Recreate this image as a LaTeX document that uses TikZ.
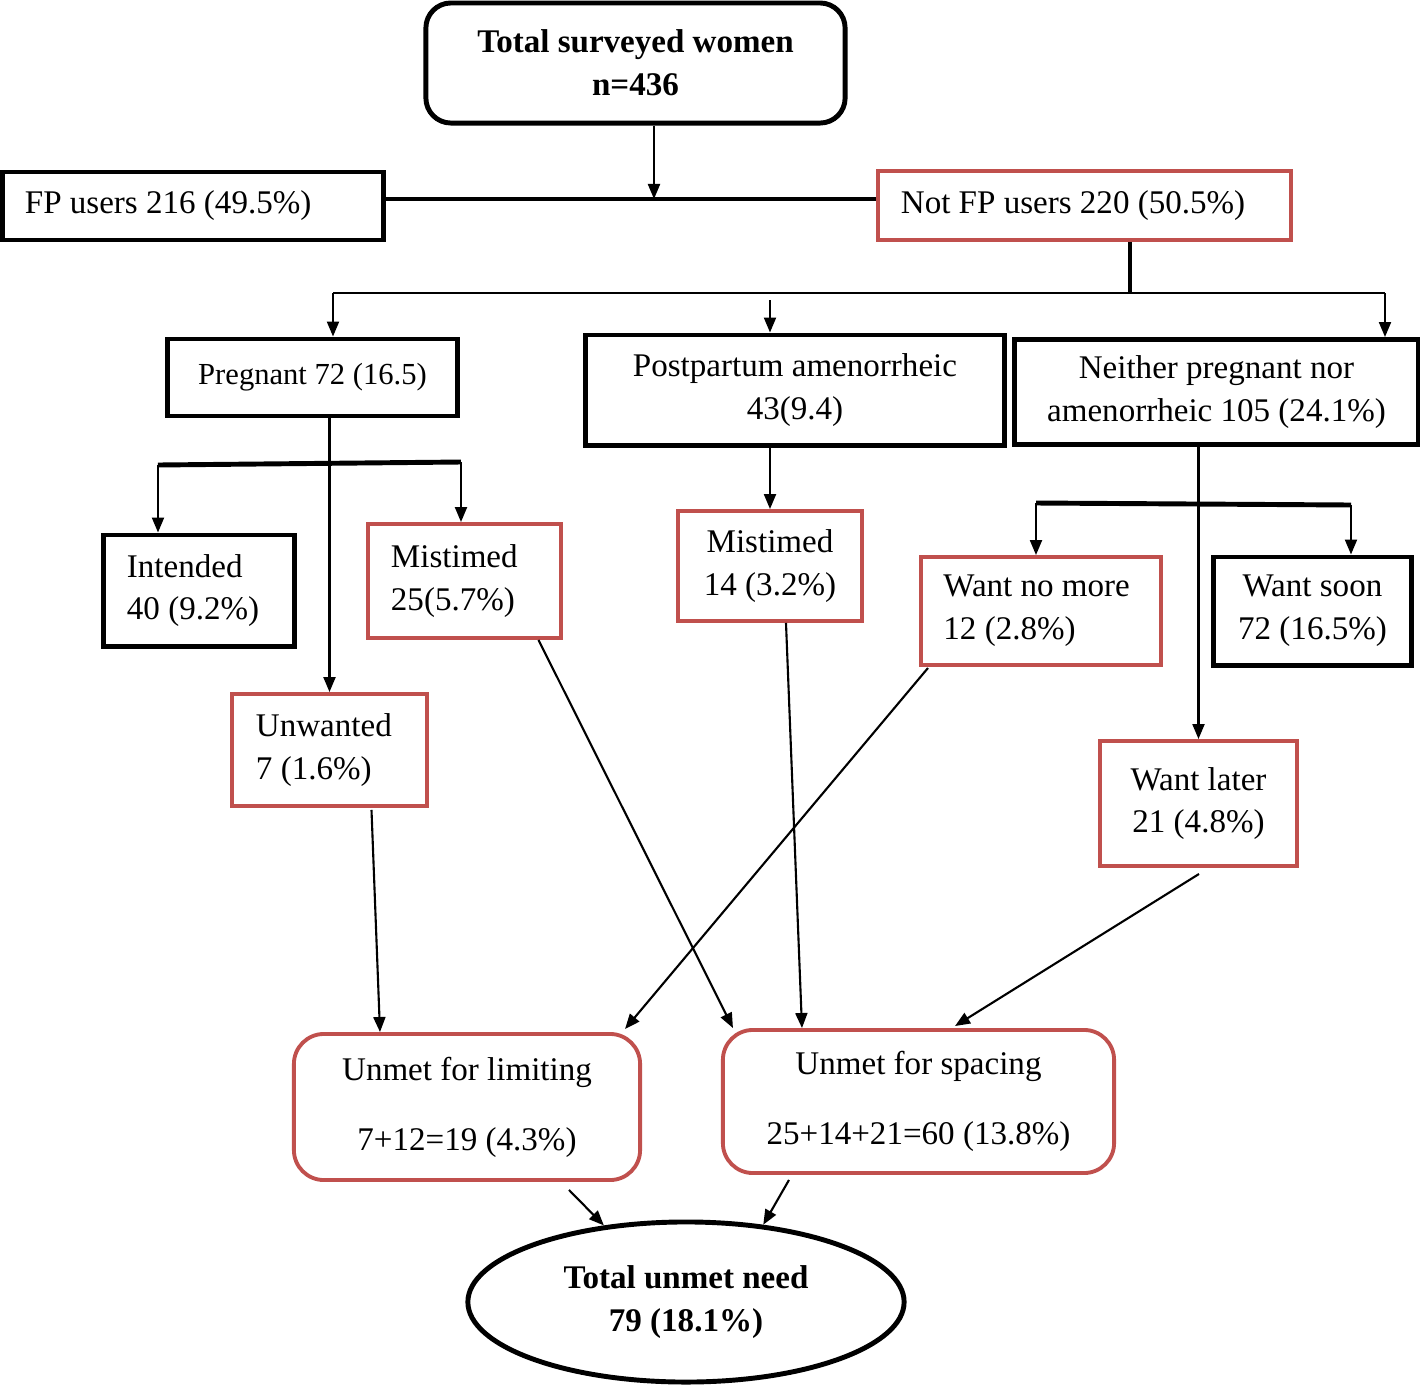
\documentclass[tikz,border=0pt]{standalone}
\usepackage{fontspec}
\setmainfont{Liberation Serif}
\usetikzlibrary{arrows.meta, calc, positioning, shapes.geometric}
\definecolor{unmetred}{HTML}{C0504D}

\tikzset{
  blackbox/.style={draw, line width=1.4pt, inner ysep=0pt},
  redbox/.style={draw=unmetred, line width=1.1pt, inner ysep=0pt},
  leftbox/.style={align=flush left, inner xsep=#1},
  link/.style={line width=0.6pt, -{Triangle[length=1.5mm,width=1.2mm]}},
  bar/.style={line width=1.4pt}
}

\begin{document}
\begin{tikzpicture}[x=0.01cm,y=-0.01cm,font=\fontsize{9.4pt}{12.2pt}\selectfont]
  \useasboundingbox (0,0) rectangle (1420,1387);

  % top of the tree
  \node[blackbox, rounded corners=0.25cm, minimum width=4.19cm, minimum height=1.20cm, align=center, font=\fontsize{9.4pt}{12.2pt}\selectfont\bfseries] (total) at (635.5,63) {Total surveyed women\\n=436};
  \node[blackbox, leftbox=0.22cm, text width=3.36cm, minimum height=0.68cm] (fpuse) at (193,206) {FP users 216 (49.5\%)};
  \node[redbox, leftbox=0.23cm, text width=3.67cm, minimum height=0.69cm] (notfp) at (1084.5,205.5) {Not FP users 220 (50.5\%)};

  % second row
  \node[blackbox, minimum width=2.89cm, minimum height=0.77cm, font=\fontsize{8.7pt}{12.2pt}\selectfont] (preg) at (312.5,377.5) {Pregnant 72 (16.5)};
  \node[blackbox, minimum width=4.18cm, minimum height=1.10cm, align=center] (postp) at (795,390) {Postpartum amenorrheic\\43(9.4)};
  \node[blackbox, minimum width=4.03cm, minimum height=1.05cm, align=center] (neith) at (1216.5,392) {Neither pregnant nor\\amenorrheic 105 (24.1\%)};

  % third row
  \node[blackbox, leftbox=0.23cm, text width=1.44cm, minimum height=1.11cm] (intend) at (199,590.5) {Intended\\40 (9.2\%)};
  \node[redbox, leftbox=0.23cm, text width=1.47cm, minimum height=1.14cm] (mist1) at (464.5,581) {Mistimed\\25(5.7\%)};
  \node[redbox, leftbox=0.24cm, text width=1.47cm, minimum height=1.12cm] (unwant) at (329.5,750) {Unwanted\\7 (1.6\%)};
  \node[redbox, minimum width=1.84cm, minimum height=1.10cm, align=center] (mist2) at (770,566) {Mistimed\\14 (3.2\%)};
  \node[redbox, leftbox=0.225cm, text width=1.95cm, minimum height=1.08cm] (nomore) at (1041,611) {Want no more\\12 (2.8\%)};
  \node[blackbox, minimum width=1.97cm, minimum height=1.08cm, align=center] (soon) at (1312.5,611) {Want soon\\72 (16.5\%)};
  \node[redbox, minimum width=1.97cm, minimum height=1.25cm, align=center] (later) at (1198.5,803.5) {Want later\\21 (4.8\%)};

  % unmet need
  \node[redbox, rounded corners=0.3cm, minimum width=3.46cm, minimum height=1.46cm, align=center] (limit) at (467,1107) {Unmet for limiting\\[7.7pt]7+12=19 (4.3\%)};
  \node[redbox, rounded corners=0.3cm, minimum width=3.91cm, minimum height=1.43cm, align=center] (space) at (918.5,1101.5) {Unmet for spacing\\[7.7pt]25+14+21=60 (13.8\%)};
  \node[draw, ellipse, line width=1.4pt, inner sep=0pt, minimum width=4.36cm, minimum height=1.60cm, align=center, font=\fontsize{9.4pt}{12.2pt}\selectfont\bfseries] (unmet) at (686,1302) {Total unmet need\\79 (18.1\%)};

  % junctions
  \coordinate (split) at (654,199);
  \coordinate (hub) at (1130,293);
  \coordinate (rowL) at (333,293);
  \coordinate (rowR) at (1385,293);
  \coordinate (postin) at (770,300);
  \coordinate (pbL) at (158,465);
  \coordinate (pbR) at (461,462);
  \coordinate (nbL) at (1036,503);
  \coordinate (nbR) at (1351,505);

  \draw[link] (total.south -| split) -- (split);
  \draw[bar] (fpuse.east |- split) -- (notfp.west |- split);
  \draw[bar] (notfp.south -| hub) -- (hub);
  \draw[line width=0.6pt] (rowL) -- (rowR);
  \draw[link] (rowL) -- (rowL |- preg.north);
  \draw[link] (postin) -- (postin |- postp.north);
  \draw[link] (rowR) -- (rowR |- neith.north);

  \draw[link] (preg.south -| unwant.north) -- (unwant.north);
  \draw[bar] (pbL) -- (pbR);
  \draw[link] (pbL) -- (pbL |- intend.north);
  \draw[link] (pbR) -- (pbR |- mist1.north);
  \draw[link] (mist2.north |- postp.south) -- (mist2.north);
  \draw[link] (later.north |- neith.south) -- (later.north);
  \draw[bar] (nbL) -- (nbR);
  \draw[link] (nbL) -- (nbL |- nomore.north);
  \draw[link] (nbR) -- (nbR |- soon.north);

  \draw[link] ($(unwant.south)+(42,2)$) -- ($(limit.north)+(-87,0)$);
  \draw[link] ($(mist1.south)+(74,0)$) -- ($(space.north west)+(12,0)$);
  \draw[link] ($(mist2.south)+(16,0)$) -- ($(space.north)+(-116.5,0)$);
  \draw[link] ($(nomore.south west)+(9,1)$) -- ($(limit.north east)+(-17,-3)$);
  \draw[link] ($(later.south)+(0.5,6)$) -- ($(space.north)+(36.5,-2)$);

  \draw[link] ($(limit.south)+(102,8)$) -- (unmet.137);
  \draw[link] ($(space.south)+(-129.5,5)$) -- (unmet.45);
\end{tikzpicture}
\end{document}
